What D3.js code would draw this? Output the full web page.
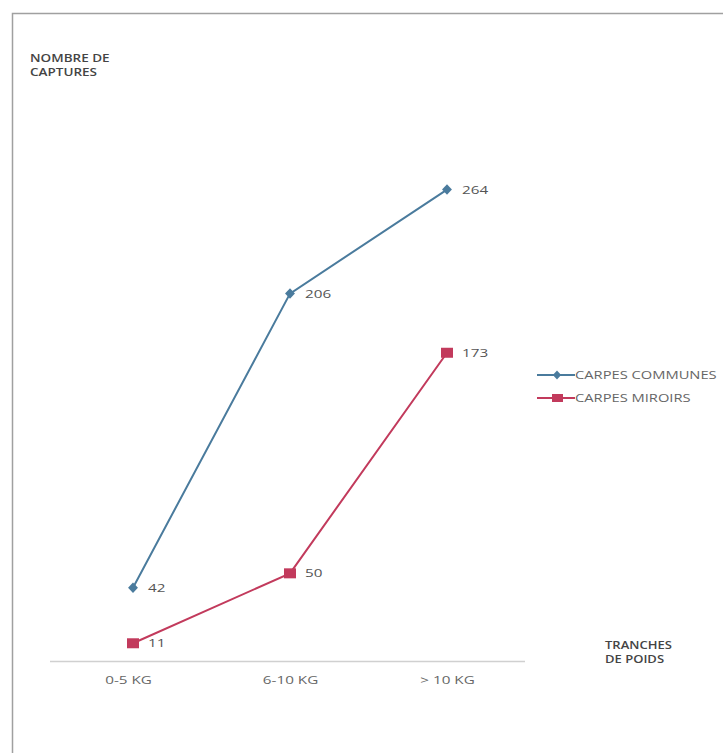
<!DOCTYPE html>
<html><head><meta charset="utf-8">
<script src="https://cdn.jsdelivr.net/npm/d3@7"></script>
<style>body{margin:0;background:#fff}svg{display:block}</style>
</head><body>
<svg id="c" width="723" height="753"></svg>
<script>
const categories = ["0-5 KG", "6-10 KG", "> 10 KG"];
const communes = [42, 206, 264];
const miroirs = [11, 50, 173];
const seriesNames = ["CARPES COMMUNES", "CARPES MIROIRS"];
const yTitle = ["NOMBRE DE", "CAPTURES"];
const xTitle = ["TRANCHES", "DE POIDS"];

const svg = d3.select("#c");
const font = "'Open Sans', 'Liberation Sans', sans-serif";
const blue = "#4a7b9d", red = "#c23a5c";
const stretch = (sel, k) => sel.each(function(){
  const w = this.getComputedTextLength();
  d3.select(this).attr("textLength", w*k).attr("lengthAdjust","spacingAndGlyphs");
});

// frame
svg.append("path").attr("d","M12.5,753 V13.5 H723").attr("fill","none").attr("stroke","#a0a0a0").attr("stroke-width",1.5);

const x = d3.scalePoint().domain(categories).range([133, 447]);
const y = d3.scaleLinear().domain([0, 300]).range([663, 125]);

// axis
const xa = svg.append("g").attr("transform","translate(0,661)")
  .call(d3.axisBottom(x).tickSize(0).tickPadding(16));
xa.select(".domain").attr("d","M50,0.5H525").attr("stroke","#d0d0d0").attr("stroke-width",1.5);
xa.selectAll("text").attr("font-family",font).attr("font-size",10.5).attr("fill","#666").attr("text-anchor","start")
  .call(stretch, 1.45)
  .attr("x", function(){ return -this.getAttribute("textLength")/2; });
xa.selectAll(".tick").filter((d,i)=>i===0).select("text").attr("dx",-5);

const line = d3.line().x((d,i)=>x(categories[i])).y(d=>y(d));
svg.append("path").datum(communes).attr("d",line).attr("fill","none").attr("stroke",blue).attr("stroke-width",2);
svg.append("path").datum(miroirs).attr("d",line).attr("fill","none").attr("stroke",red).attr("stroke-width",2);

const diamond = d3.symbol().type(d3.symbolDiamond).size(50);
svg.selectAll(".pc").data(communes).join("path")
  .attr("d",diamond).attr("transform",(d,i)=>`translate(${x(categories[i])},${y(d)}) scale(1.3,0.8)`).attr("fill",blue);
svg.selectAll(".pm").data(miroirs).join("rect")
  .attr("x",(d,i)=>x(categories[i])-6).attr("y",d=>y(d)-5).attr("width",12).attr("height",10).attr("fill",red);

const addLabels = (arr) => svg.selectAll(null).data(arr).join("text")
  .attr("x",(d,i)=>x(categories[i])+15).attr("y",d=>y(d)+4)
  .attr("font-family",font).attr("font-size",10.5).attr("fill","#555").text(d=>d).call(stretch,1.45);
addLabels(communes); addLabels(miroirs);

// legend
const lg = svg.append("g");
[[blue,"d"],[red,"s"]].forEach((c,k)=>{
  const ly = 375 + k*23;
  lg.append("line").attr("x1",537).attr("x2",575).attr("y1",ly).attr("y2",ly).attr("stroke",c[0]).attr("stroke-width",2);
  if(c[1]==="d") lg.append("path").attr("d",d3.symbol().type(d3.symbolDiamond).size(35)).attr("transform",`translate(557,${ly}) scale(1.3,0.8)`).attr("fill",c[0]);
  else lg.append("rect").attr("x",552).attr("y",ly-4).attr("width",11).attr("height",8).attr("fill",c[0]);
  lg.append("text").attr("x",575).attr("y",ly+4).attr("font-family",font).attr("font-size",10.5).attr("fill","#666").text(seriesNames[k]).call(stretch,1.4);
});

// titles
yTitle.forEach((t,i)=>svg.append("text").attr("x",30).attr("y",62+i*14).attr("font-family",font).attr("font-size",10).attr("font-weight","600").attr("fill","#444").text(t).call(stretch,1.35));
xTitle.forEach((t,i)=>svg.append("text").attr("x",605).attr("y",649+i*14).attr("font-family",font).attr("font-size",10).attr("font-weight","600").attr("fill","#444").text(t).call(stretch,1.3));
</script>
</body></html>
